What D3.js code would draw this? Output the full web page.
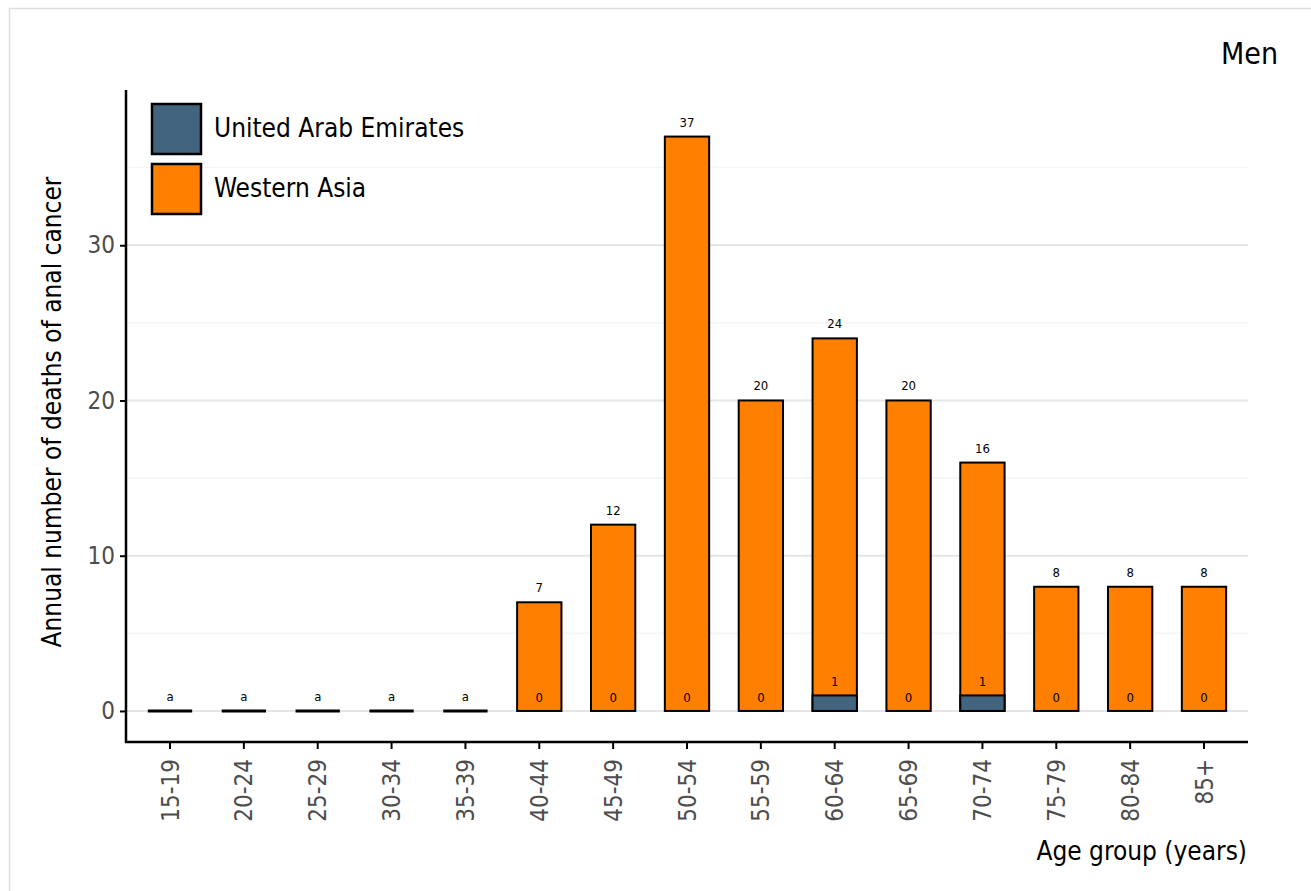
<!DOCTYPE html>
<html><head><meta charset="utf-8">
<script src="https://cdn.jsdelivr.net/npm/d3@7"></script>
<style>body{margin:0;background:#fff;}svg{display:block;font-family:"DejaVu Sans Condensed","DejaVu Sans",sans-serif;font-stretch:condensed;}
svg text{font-family:"DejaVu Sans Condensed","DejaVu Sans",sans-serif;font-stretch:condensed;}</style>
</head><body>
<script>
const categories = ["15-19","20-24","25-29","30-34","35-39","40-44","45-49","50-54","55-59","60-64","65-69","70-74","75-79","80-84","85+"];
const westernAsia = [0,0,0,0,0,7,12,37,20,24,20,16,8,8,8];
const uae = [0,0,0,0,0,0,0,0,0,1,0,1,0,0,0];
const topLabels = ["a","a","a","a","a","7","12","37","20","24","20","16","8","8","8"];
const uaeLabels = [null,null,null,null,null,"0","0","0","0","1","0","1","0","0","0"];
const yTicks = [0,10,20,30];
const yMinor = [5,15,25,35];
const seriesNames = ["United Arab Emirates","Western Asia"];
const colors = {"United Arab Emirates":"#43647f","Western Asia":"#ff7f00"};

(function(){
const W=1311,H=891;
const svg=d3.select("body").append("svg").attr("width",W).attr("height",H);
svg.append("rect").attr("x",9.5).attr("y",8.5).attr("width",W).attr("height",H).attr("fill","#fff").attr("stroke","#dedede").attr("stroke-width",1.5);

const pL=126,pR=1248,pT=90,pB=742;
const step=(1204-170)/14;
const x=d3.scaleBand().domain(categories).range([170-step/2,1204+step/2]).paddingInner(0.4).paddingOuter(0.2);
const y=d3.scaleLinear().domain([-2,40]).range([pB,pT]);

svg.append("g").selectAll("line").data(yMinor).join("line")
 .attr("x1",pL).attr("x2",pR).attr("y1",d=>y(d)).attr("y2",d=>y(d)).attr("stroke","#f5f5f5").attr("stroke-width",1.5);
svg.append("g").selectAll("line").data(yTicks).join("line")
 .attr("x1",pL).attr("x2",pR).attr("y1",d=>y(d)).attr("y2",d=>y(d)).attr("stroke","#e5e5e5").attr("stroke-width",2);

const bw=x.bandwidth();
const cx=d=>x(d)+bw/2;
const g=svg.append("g");
categories.forEach((c,i)=>{
  const v=westernAsia[i];
  if(v>0){
    g.append("rect").attr("x",cx(c)-bw/2).attr("width",bw).attr("y",y(v)).attr("height",y(0)-y(v))
     .attr("fill",colors["Western Asia"]).attr("stroke","#000").attr("stroke-width",2);
  } else {
    g.append("line").attr("x1",cx(c)-bw/2).attr("x2",cx(c)+bw/2).attr("y1",y(0)).attr("y2",y(0)).attr("stroke","#000").attr("stroke-width",3);
  }
});
categories.forEach((c,i)=>{
  const v=uae[i];
  if(v>0){
    g.append("rect").attr("x",cx(c)-bw/2).attr("width",bw).attr("y",y(v)).attr("height",y(0)-y(v))
     .attr("fill",colors["United Arab Emirates"]).attr("stroke","#000").attr("stroke-width",2);
  }
});
categories.forEach((c,i)=>{
  g.append("text").attr("x",cx(c)).attr("y",y(westernAsia[i])-10).attr("text-anchor","middle").attr("font-size",13).attr("fill","#000").text(topLabels[i]);
  if(uaeLabels[i]!==null){
    g.append("text").attr("x",cx(c)).attr("y",y(uae[i])-9).attr("text-anchor","middle").attr("font-size",13).attr("fill","#000").text(uaeLabels[i]);
  }
});

const ya=svg.append("g").attr("transform",`translate(${pL},0)`).call(d3.axisLeft(y).tickValues(yTicks).tickSize(6).tickPadding(5));
ya.select(".domain").remove();
ya.append("line").attr("x1",0).attr("x2",0).attr("y1",pT).attr("y2",pB+1).attr("stroke","#000").attr("stroke-width",2.5);
ya.selectAll(".tick line").attr("stroke","#000").attr("stroke-width",2);
ya.selectAll(".tick text").attr("font-size",24).attr("fill","#4d4d4d").attr("font-family",null);

const xa=svg.append("g").attr("transform",`translate(0,${pB})`).call(d3.axisBottom(x).tickSize(7).tickPadding(6));
xa.select(".domain").remove();
xa.append("line").attr("x1",pL-1).attr("x2",pR).attr("y1",0).attr("y2",0).attr("stroke","#000").attr("stroke-width",2.5);
xa.selectAll(".tick line").attr("stroke","#000").attr("stroke-width",2);
xa.selectAll(".tick text").attr("font-size",24).attr("fill","#4d4d4d").attr("font-family",null)
  .attr("transform","rotate(-90)").attr("text-anchor","end").attr("dx","-17").attr("dy","0.36em").attr("x",0).attr("y",0);
ya.attr("font-family",null); xa.attr("font-family",null);

svg.append("text").attr("transform",`translate(61,${(pT+pB)/2-4}) rotate(-90)`).attr("text-anchor","middle").attr("font-size",26).attr("fill","#000").text("Annual number of deaths of anal cancer");
svg.append("text").attr("x",1247).attr("y",860).attr("text-anchor","end").attr("font-size",26).attr("fill","#000").text("Age group (years)");
svg.append("text").attr("x",1278).attr("y",64).attr("text-anchor","end").attr("font-size",30).attr("fill","#000").text("Men");

const lg=svg.append("g");
seriesNames.forEach((s,i)=>{
  lg.append("rect").attr("x",152).attr("y",104+i*60).attr("width",49).attr("height",50).attr("fill",colors[s]).attr("stroke","#000").attr("stroke-width",2.5);
  lg.append("text").attr("x",214).attr("y",137+i*60).attr("font-size",26).attr("fill","#000").text(s);
});
})();
</script>
</body></html>
